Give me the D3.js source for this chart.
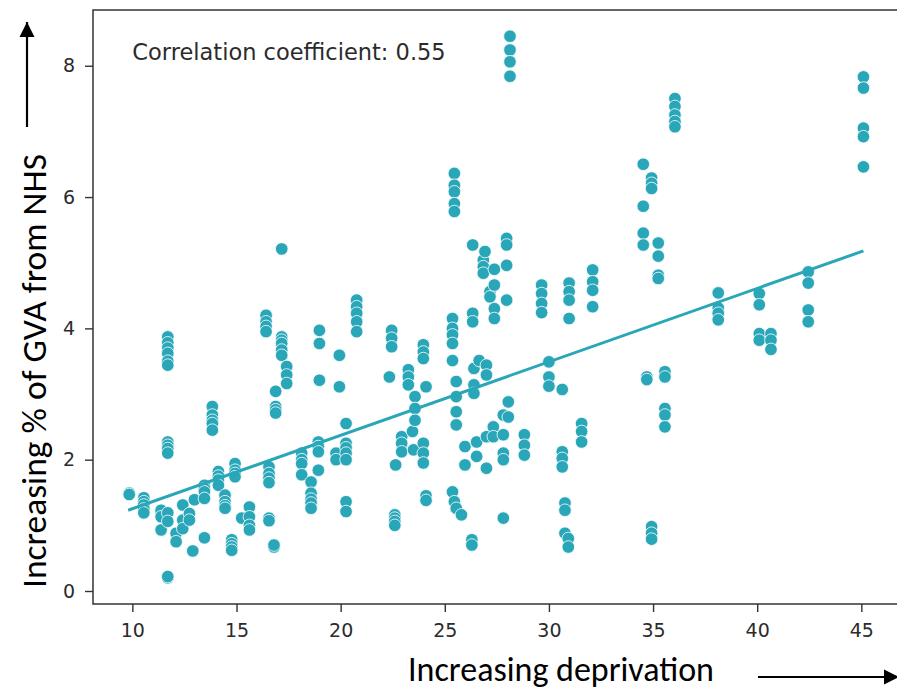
<!DOCTYPE html>
<html>
<head>
<meta charset="utf-8">
<script src="https://cdn.jsdelivr.net/npm/d3@7"></script>
<style>
  body { margin: 0; background: #fff; }
  svg { display: block; }
  .tick text { font-family: "DejaVu Sans", sans-serif; font-size: 19px; fill: #2b2b2b; }
  .tick line { stroke: #333; stroke-width: 1.4; }
</style>
</head>
<body>
<svg id="chart" width="897" height="691"></svg>
<script>
// data: one column of values per deprivation score
var deprivation = [9.85, 10.55, 11.38, 11.7, 12.1, 12.42, 12.74, 12.9, 12.98, 13.46,
  13.84, 14.13, 14.45, 14.77, 14.93, 15.25, 15.62, 16.42, 16.56, 16.8,
  16.88, 17.17, 17.41, 18.13, 18.58, 18.93, 18.98, 19.78, 19.94, 20.26,
  20.77, 22.34, 22.45, 22.6, 22.64, 22.93, 23.25, 23.45, 23.5, 23.57,
  23.97, 24.1, 25.37, 25.46, 25.55, 25.8, 25.97, 26.3, 26.34, 26.4,
  26.53, 26.65, 26.85, 26.93, 27.0, 27.17, 27.33, 27.38, 27.81, 27.97,
  28.05, 28.13, 28.82, 29.65, 30.0, 30.64, 30.77, 30.93, 30.97, 31.57,
  32.1, 34.53, 34.7, 34.93, 35.25, 35.57, 36.05, 38.13, 40.1, 40.66,
  42.45, 45.1]

var gvaShare = [
  [1.49, 1.47], [1.42, 1.36, 1.31, 1.25, 1.19], [1.23, 1.13, 0.93],
  [3.87, 3.78, 3.7, 3.62, 3.5, 3.44, 2.27, 2.22, 2.17, 2.1, 1.19, 1.06, 0.2, 0.22],
  [0.88, 0.75], [1.31, 1.08, 0.95], [1.18, 1.08], [0.61], [1.39],
  [1.61, 1.56, 1.51, 1.41, 0.81],
  [2.81, 2.68, 2.6, 2.55, 2.45], [1.82, 1.75, 1.69, 1.61], [1.46, 1.36, 1.3, 1.26],
  [0.78, 0.72, 0.67, 0.62], [1.94, 1.84, 1.79, 1.74], [1.11], [1.28, 1.13, 1.0, 0.93],
  [4.2, 4.1, 4.03, 3.95], [1.89, 1.79, 1.72, 1.65, 1.11, 1.07], [0.67, 0.7],
  [3.04, 2.81, 2.76, 2.71], [5.21, 3.87, 3.82, 3.77, 3.67, 3.59], [3.42, 3.29, 3.16],
  [2.1, 2.0, 1.94, 1.77], [1.66, 1.49, 1.4, 1.34, 1.26], [2.27, 2.2, 2.12, 1.84],
  [3.97, 3.77, 3.21], [2.1, 2.0], [3.59, 3.11], [2.55, 2.25, 2.18, 2.1, 2.0, 1.36, 1.21],
  [4.43, 4.33, 4.23, 4.1, 3.95], [3.26], [3.97, 3.85, 3.72], [1.16, 1.11, 1.06, 1.0],
  [1.92], [2.35, 2.25, 2.12], [3.37, 3.26, 3.14], [2.43], [2.15], [2.96, 2.78, 2.6],
  [3.75, 3.64, 3.54, 2.25, 2.1, 1.95], [3.11, 1.45, 1.38],
  [4.15, 4.0, 3.9, 3.77, 3.51, 1.51], [6.36, 6.18, 6.08, 5.9, 5.78, 1.36],
  [3.19, 2.96, 2.73, 2.53, 1.26], [1.16], [2.2, 1.92], [0.78, 0.7], [5.27, 4.23, 4.1],
  [3.39, 3.14, 3.01],
  [2.27, 2.05], [3.51], [5.04, 4.94, 4.84], [5.17], [3.44, 3.29, 2.35, 1.87], [4.56, 4.48],
  [2.5, 2.35], [4.9, 4.66, 4.3, 4.15], [2.68, 2.38, 2.1, 2.0, 1.11], [5.37, 5.27, 4.96, 4.43],
  [2.88, 2.65], [8.45, 8.24, 8.06, 7.84], [2.38, 2.22, 2.07], [4.66, 4.53, 4.38, 4.24],
  [3.49, 3.26, 3.12], [3.07, 2.12, 2.02, 1.89], [1.34, 1.23, 0.88], [0.8, 0.67],
  [4.69, 4.56, 4.43, 4.15], [2.55, 2.43, 2.27],
  [4.89, 4.71, 4.58, 4.33], [6.5, 5.86, 5.45, 5.27], [3.26, 3.22],
  [6.29, 6.21, 6.13, 0.98, 0.88, 0.79], [5.3, 5.1, 4.81, 4.76],
  [3.34, 3.26, 2.78, 2.68, 2.5], [7.5, 7.38, 7.25, 7.15, 7.07], [4.54, 4.31, 4.23, 4.13],
  [4.53, 4.36, 3.92, 3.82], [3.92, 3.82, 3.68],
  [4.86, 4.69, 4.28, 4.1], [7.83, 7.66, 7.05, 6.92, 6.46]
]

// fitted line, end points
var fitX = [9.8, 45.1]
var fitY = [1.23, 5.18]

var xTicks = [10, 15, 20, 25, 30, 35, 40, 45]
var yTicks = [0, 2, 4, 6, 8]
var corrLabel = "Correlation coefficient: 0.55"
var xTitle = "Increasing deprivation"
var yTitle = "Increasing % of GVA from NHS"

// --------------------------------------------------------------------------------//
// SETUP
// --------------------------------------------------------------------------------//
var svg = d3.select('#chart')
var margin = { top: 10, right: -1, bottom: 87, left: 93 }
var width = 897 - margin.left - margin.right
var height = 691 - margin.top - margin.bottom
var teal = "#29a6b8"

var x = d3.scaleLinear().domain([8.11, 46.76]).range([0, width])
var y = d3.scaleLinear().domain([-0.198, 8.849]).range([height, 0])

var g = svg.append("g")
    .attr("transform", "translate(" + margin.left + "," + margin.top + ")")

// axes
var xAxis = g.append("g")
    .attr("transform", "translate(0," + height + ")")
    .call(d3.axisBottom(x).tickValues(xTicks).tickSize(8).tickPadding(12))
xAxis.select(".domain").remove()

var yAxis = g.append("g")
    .call(d3.axisLeft(y).tickValues(yTicks).tickSize(8).tickPadding(10))
yAxis.select(".domain").remove()

// spines
g.append("rect")
    .attr("x", 0).attr("y", 0)
    .attr("width", width).attr("height", height)
    .attr("fill", "none")
    .attr("stroke", "#333")
    .attr("stroke-width", 1.5)

// points
var points = []
deprivation.forEach(function (d, i) {
    gvaShare[i].forEach(function (v) { points.push({ x: d, y: v }) })
})

g.append("g").selectAll("circle")
    .data(points)
    .enter()
    .append("circle")
    .attr("cx", function (d) { return x(d.x) })
    .attr("cy", function (d) { return y(d.y) })
    .attr("r", 6.3)
    .attr("fill", teal)
    .attr("stroke", "#fff")
    .attr("stroke-width", 0.8)

// regression line
g.append("line")
    .attr("x1", x(fitX[0])).attr("y1", y(fitY[0]))
    .attr("x2", x(fitX[1])).attr("y2", y(fitY[1]))
    .attr("stroke", teal)
    .attr("stroke-width", 3)

// annotation
g.append("text")
    .attr("x", x(10))
    .attr("y", 50)
    .style("font-family", "DejaVu Sans, sans-serif")
    .style("font-size", "22.5px")
    .style("fill", "#2b2b2b")
    .text(corrLabel)

// --------------------------------------------------------------------------------//
// TITLES AND ARROWS
// --------------------------------------------------------------------------------//
svg.append("defs").append("marker")
    .attr("id", "head")
    .attr("viewBox", "0 0 10 10")
    .attr("refX", 10).attr("refY", 5)
    .attr("markerWidth", 7).attr("markerHeight", 7)
    .attr("markerUnits", "strokeWidth")
    .attr("orient", "auto")
    .append("path")
    .attr("d", "M0,0 L10,5 L0,10 Z")
    .attr("fill", "#000")

svg.append("text")
    .attr("transform", "translate(46,588) rotate(-90)")
    .style("font-family", "Carlito, Calibri, Lato, sans-serif")
    .style("font-size", "35.5px")
    .style("fill", "#000")
    .text(yTitle)

svg.append("text")
    .attr("x", 408)
    .attr("y", 681)
    .style("font-family", "Carlito, Calibri, Lato, sans-serif")
    .style("font-size", "34px")
    .style("fill", "#000")
    .text(xTitle)

svg.append("line")
    .attr("x1", 27).attr("y1", 127)
    .attr("x2", 27).attr("y2", 22)
    .attr("stroke", "#000").attr("stroke-width", 2.2)
    .attr("marker-end", "url(#head)")

svg.append("line")
    .attr("x1", 758).attr("y1", 677)
    .attr("x2", 899).attr("y2", 677)
    .attr("stroke", "#000").attr("stroke-width", 2.2)
    .attr("marker-end", "url(#head)")
</script>
</body>
</html>
